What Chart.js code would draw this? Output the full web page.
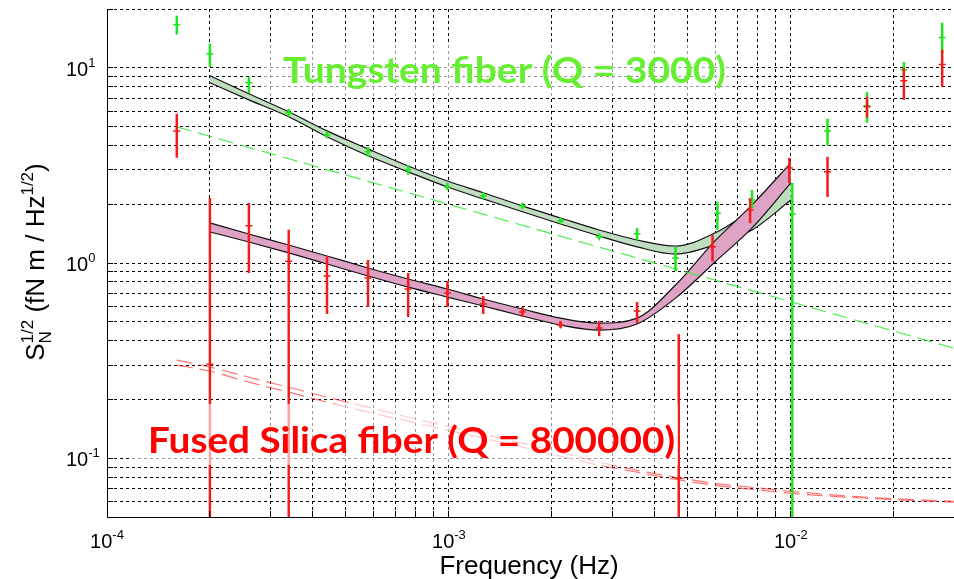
<!DOCTYPE html>
<html>
<head>
<meta charset="utf-8">
<script src="https://cdn.jsdelivr.net/npm/chart.js@4.4.1/dist/chart.umd.min.js"></script>
<style>
  html, body { margin: 0; padding: 0; background: #fff; }
  #chart { display: block; }
</style>
</head>
<body>
<canvas id="chart" width="954" height="579"></canvas>
<script>
// --- Data ---
// measured tungsten fiber noise, with error bars
const tungstenFreq = [1.60e-4, 2.0e-4, 2.6e-4, 3.4e-4, 4.4e-4, 5.8e-4, 7.6e-4, 9.9e-4, 1.26e-3, 1.64e-3, 2.12e-3, 2.75e-3, 3.55e-3, 4.6e-3, 6.1e-3, 7.7e-3, 1.01e-2, 1.28e-2, 1.67e-2, 2.14e-2, 2.77e-2];
const tungstenVal = [16.6, 11.8, 8.38, 5.88, 4.53, 3.71, 3.00, 2.45, 2.21, 1.96, 1.64, 1.36, 1.41, 1.06, 1.80, 2.10, 1.78, 4.75, 6.38, 9.77, 14.3];
const tungstenLo = [14.8, 10.1, 7.44, 5.61, 4.38, 3.50, 2.83, 2.37, 2.13, 1.91, 1.60, 1.33, 1.31, 0.91, 1.48, 1.91, 0.001, 3.98, 5.23, 8.89, 11.9];
const tungstenHi = [18.5, 13.3, 8.99, 6.16, 4.70, 3.93, 3.18, 2.57, 2.29, 2.03, 1.70, 1.41, 1.51, 1.21, 2.06, 2.37, 2.57, 5.48, 7.53, 10.7, 17.0];

// measured fused silica fiber noise, with error bars
const silicaFreq = [1.60e-4, 2.0e-4, 2.6e-4, 3.4e-4, 4.4e-4, 5.8e-4, 7.6e-4, 9.9e-4, 1.26e-3, 1.64e-3, 2.12e-3, 2.75e-3, 3.55e-3, 4.7e-3, 5.9e-3, 7.6e-3, 9.9e-3, 1.28e-2, 1.67e-2, 2.14e-2, 2.77e-2];
const silicaVal = [4.75, 0.303, 1.55, 1.02, 0.858, 0.838, 0.736, 0.702, 0.616, 0.561, 0.481, 0.464, 0.567, 0.079, 1.21, 1.87, 3.07, 2.93, 6.31, 8.58, 10.4];
const silicaLo = [3.46, 0.001, 0.889, 0.001, 0.548, 0.595, 0.529, 0.595, 0.548, 0.529, 0.464, 0.422, 0.492, 0.001, 1.02, 1.60, 2.57, 2.18, 5.54, 6.85, 7.99];
const silicaHi = [5.81, 2.15, 2.03, 1.48, 1.086, 1.036, 0.889, 0.809, 0.677, 0.595, 0.504, 0.504, 0.631, 0.432, 1.39, 2.15, 3.46, 3.50, 7.10, 10.0, 12.4];

// model bands (upper / lower edges)
const bandFreq = [2.0e-4, 2.6e-4, 3.4e-4, 4.4e-4, 5.8e-4, 7.6e-4, 9.9e-4, 1.26e-3, 1.64e-3, 2.12e-3, 2.75e-3, 3.55e-3, 4.6e-3, 6.0e-3, 7.7e-3, 1.0e-2];
const tungstenUpper = [9.10, 7.36, 5.95, 4.75, 3.84, 3.14, 2.63, 2.29, 1.96, 1.70, 1.476, 1.312, 1.222, 1.425, 1.87, 2.57];
const tungstenLower = [8.38, 6.85, 5.61, 4.43, 3.54, 2.93, 2.45, 2.13, 1.83, 1.585, 1.375, 1.21, 1.11, 1.24, 1.476, 2.10];
const silicaUpper = [1.604, 1.408, 1.237, 1.086, 0.943, 0.828, 0.736, 0.654, 0.581, 0.522, 0.492, 0.522, 0.771, 1.297, 1.984, 3.26];
const silicaLower = [1.442, 1.281, 1.126, 0.988, 0.858, 0.753, 0.669, 0.602, 0.535, 0.481, 0.453, 0.487, 0.661, 1.012, 1.512, 2.57];

// dashed thermal-noise lines
const tungstenThermalFreq = [1.6e-4, 3.0e-2];
const tungstenThermal = [4.98, 0.366];
const silicaThermalFreq = [1.60e-4, 2.0e-4, 2.6e-4, 3.4e-4, 4.4e-4, 5.8e-4, 7.6e-4, 9.9e-4, 1.26e-3, 1.64e-3, 2.12e-3, 2.75e-3, 3.55e-3, 4.6e-3, 6.0e-3, 7.7e-3, 1.0e-2, 1.67e-2, 3.0e-2];
const silicaThermalA = [0.318, 0.293, 0.260, 0.231, 0.2055, 0.1826, 0.1622, 0.1459, 0.1328, 0.1194, 0.1073, 0.0954, 0.0868, 0.0799, 0.0744, 0.0710, 0.0677, 0.0631, 0.0602];
const silicaThermalB = [0.300, 0.279, 0.2453, 0.218, 0.1937, 0.1721, 0.1548, 0.1392, 0.1266, 0.1139, 0.1024, 0.0921, 0.0848, 0.0780, 0.0727, 0.0693, 0.0661, 0.0624, 0.0595];

// axes: grid ticks and decade labels
const xGridTicks = [1e-4, 2e-4, 3e-4, 4e-4, 5e-4, 6e-4, 7e-4, 8e-4, 9e-4, 1e-3, 2e-3, 3e-3, 4e-3, 5e-3, 6e-3, 7e-3, 8e-3, 9e-3, 1e-2, 2e-2, 3e-2];
const yGridTicks = [0.05, 0.06, 0.07, 0.08, 0.09, 0.1, 0.2, 0.3, 0.4, 0.5, 0.6, 0.7, 0.8, 0.9, 1, 2, 3, 4, 5, 6, 7, 8, 9, 10, 20];
const xDecades = [1e-4, 1e-3, 1e-2];
const xDecadeExp = ['-4', '-3', '-2'];
const yDecades = [10, 1, 0.1];
const yDecadeExp = ['1', '0', '-1'];

// --- Styles ---
const FONT = '"Liberation Sans", Arial, sans-serif';
const GREEN = '#1fe61f';
const RED = '#f31c1c';

const toPoints = (xs, ys) => xs.map((f, i) => ({ x: f, y: ys[i] }));

// --- Error bars + annotation boxes ---
const overlayPlugin = {
  id: 'overlay',
  afterDatasetsDraw(chart) {
    const { ctx, chartArea: a, scales: { x, y } } = chart;
    ctx.save();
    ctx.beginPath();
    ctx.rect(a.left, a.top, a.right - a.left, a.bottom - a.top);
    ctx.clip();

    function bars(freq, lo, hi, color) {
      ctx.strokeStyle = color;
      ctx.lineWidth = 2.5;
      ctx.lineCap = 'butt';
      freq.forEach((f, i) => {
        const px = x.getPixelForValue(f);
        const top = y.getPixelForValue(hi[i]);
        const bot = Math.min(y.getPixelForValue(lo[i]), a.bottom + 5);
        ctx.beginPath();
        ctx.moveTo(px, top);
        ctx.lineTo(px, bot);
        ctx.stroke();
      });
    }
    bars(tungstenFreq, tungstenLo, tungstenHi, GREEN);
    bars(silicaFreq, silicaLo, silicaHi, RED);

    // text boxes (semi transparent white behind the labels)
    ctx.fillStyle = 'rgba(255,255,255,0.6)';
    ctx.fillRect(262, 42, 471, 55);
    ctx.fillRect(130, 404, 548, 61);

    drawBig(ctx, 'Tungsten fiber (Q = 3000)', '#66ee33', 283, 83, 443);
    drawBig(ctx, 'Fused Silica fiber (Q = 800000)', '#ff0000', 148, 453, 527);
    ctx.restore();
  },
  afterDraw(chart) {
    const { ctx, chartArea: a, scales: { x, y } } = chart;
    ctx.save();
    // inside tick marks
    ctx.strokeStyle = '#000';
    ctx.lineWidth = 1;
    ctx.beginPath();
    xGridTicks.forEach(v => {
      const px = Math.round(x.getPixelForValue(v) - 0.5) + 0.5;
      ctx.moveTo(px, a.bottom);
      ctx.lineTo(px, a.bottom - 6);
    });
    yGridTicks.forEach(v => {
      const py = Math.round(y.getPixelForValue(v) - 0.5) + 0.5;
      ctx.moveTo(a.left, py);
      ctx.lineTo(a.left + 6, py);
    });
    ctx.stroke();

    // decade labels with superscripts
    ctx.fillStyle = '#000';
    ctx.textAlign = 'left';
    ctx.textBaseline = 'alphabetic';
    xDecades.forEach((v, i) => {
      const px = x.getPixelForValue(v);
      ctx.font = `20px ${FONT}`;
      const wb = ctx.measureText('10').width;
      ctx.font = `13px ${FONT}`;
      const we = ctx.measureText(xDecadeExp[i]).width;
      const left = px - (wb + we) / 2;
      ctx.font = `20px ${FONT}`;
      ctx.fillText('10', left, 548);
      ctx.font = `13px ${FONT}`;
      ctx.fillText(xDecadeExp[i], left + wb, 539);
    });
    yDecades.forEach((v, i) => {
      const py = y.getPixelForValue(v);
      ctx.font = `20px ${FONT}`;
      const wb = ctx.measureText('10').width;
      ctx.fillText('10', 66, py + 8);
      ctx.font = `13px ${FONT}`;
      ctx.fillText(yDecadeExp[i], 66 + wb, py - 1);
    });

    // axis titles
    ctx.font = `26px ${FONT}`;
    ctx.textAlign = 'center';
    ctx.fillText('Frequency (Hz)', 529, 574);

    ctx.translate(44, 262);
    ctx.rotate(-Math.PI / 2);
    drawYTitle(ctx);
    ctx.restore();
  }
};

function drawBig(ctx, text, color, left, baseline, width) {
  ctx.save();
  ctx.font = `bold 36px Lato, "Open Sans", sans-serif`;
  const w = ctx.measureText(text).width;
  ctx.translate(left, baseline);
  ctx.scale(width / w, 1);
  ctx.fillStyle = color;
  ctx.textAlign = 'left';
  ctx.textBaseline = 'alphabetic';
  ctx.fillText(text, 0, 0);
  ctx.restore();
}

// S_N^{1/2} (fN m / Hz^{1/2})
function drawYTitle(ctx) {
  const big = `26px ${FONT}`;
  const small = `17px ${FONT}`;
  ctx.textAlign = 'left';
  ctx.font = big;
  const wS = ctx.measureText('S').width;
  const wMid = ctx.measureText(' (fN m / Hz').width;
  const wEnd = ctx.measureText(')').width;
  ctx.font = small;
  const wHalf = ctx.measureText('1/2').width;
  const wN = ctx.measureText('N').width;
  const stack = Math.max(wHalf, wN);
  const total = wS + stack + wMid + wHalf + wEnd;
  let cx = -total / 2;
  ctx.font = big;
  ctx.fillText('S', cx, 0); cx += wS;
  ctx.font = small;
  ctx.fillText('1/2', cx, -11);
  ctx.fillText('N', cx, 7);
  cx += stack;
  ctx.font = big;
  ctx.fillText(' (fN m / Hz', cx, 0); cx += wMid;
  ctx.font = small;
  ctx.fillText('1/2', cx, -11); cx += wHalf;
  ctx.font = big;
  ctx.fillText(')', cx, 0);
}

// --- Chart ---
const lineBase = { type: 'line', pointRadius: 0, borderWidth: 1.2, cubicInterpolationMode: 'monotone' };

new Chart(document.getElementById('chart'), {
  type: 'line',
  data: {
    datasets: [
      Object.assign({}, lineBase, { data: toPoints(bandFreq, tungstenUpper), borderColor: '#111', backgroundColor: 'rgb(192,221,192)', fill: '+1', order: 6 }),
      Object.assign({}, lineBase, { data: toPoints(bandFreq, tungstenLower), borderColor: '#111', fill: false, order: 5 }),
      Object.assign({}, lineBase, { data: toPoints(bandFreq, silicaUpper), borderColor: '#111', backgroundColor: 'rgb(222,162,196)', fill: '+1', order: 4 }),
      Object.assign({}, lineBase, { data: toPoints(bandFreq, silicaLower), borderColor: '#111', fill: false, order: 3 }),
      Object.assign({}, lineBase, { data: toPoints(tungstenThermalFreq, tungstenThermal), borderColor: 'rgba(60,235,60,0.9)', borderDash: [15, 7], fill: false, order: 2 }),
      Object.assign({}, lineBase, { data: toPoints(silicaThermalFreq, silicaThermalA), borderColor: 'rgba(255,70,70,0.75)', borderDash: [16, 7], fill: false, order: 2 }),
      Object.assign({}, lineBase, { data: toPoints(silicaThermalFreq, silicaThermalB), borderColor: 'rgba(255,70,70,0.75)', borderDash: [16, 7], fill: false, order: 2 }),
      { type: 'line', data: toPoints(tungstenFreq, tungstenVal), showLine: false, pointStyle: 'cross', pointRadius: 3.5, borderWidth: 1.5, borderColor: GREEN, order: 1 },
      { type: 'line', data: toPoints(silicaFreq, silicaVal), showLine: false, pointStyle: 'cross', pointRadius: 3.5, borderWidth: 1.5, borderColor: RED, order: 0 }
    ]
  },
  options: {
    responsive: false,
    animation: false,
    layout: { autoPadding: false, padding: { left: 107, top: 9, right: 0, bottom: 62 } },
    plugins: { legend: { display: false }, tooltip: { enabled: false } },
    scales: {
      x: {
        type: 'logarithmic', min: 1e-4, max: 3e-2,
        afterBuildTicks: s => { s.ticks = xGridTicks.map(v => ({ value: v })); },
        ticks: { display: false },
        grid: { color: '#000', lineWidth: 1, drawTicks: false },
        border: { display: true, color: '#000', width: 1, dash: [3, 3] }
      },
      y: {
        type: 'logarithmic', min: 0.05, max: 20,
        afterBuildTicks: s => { s.ticks = yGridTicks.map(v => ({ value: v })); },
        ticks: { display: false },
        grid: { color: '#000', lineWidth: 1, drawTicks: false },
        border: { display: true, color: '#000', width: 1, dash: [3, 3] }
      }
    }
  },
  plugins: [overlayPlugin]
});
</script>
</body>
</html>
